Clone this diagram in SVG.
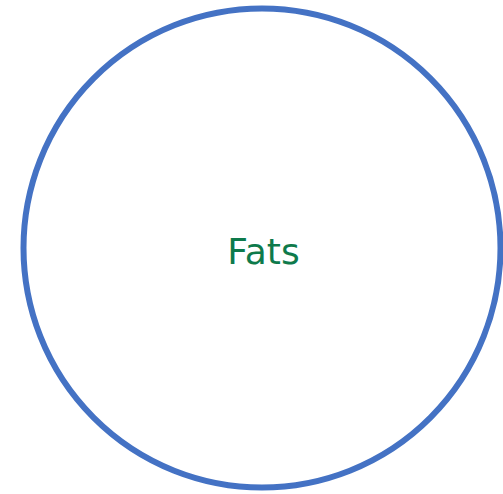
<svg xmlns="http://www.w3.org/2000/svg" width="503" height="494" viewBox="0 0 503 494">
<style>
.ring{fill:#FFFFFF;stroke:#4472C4;stroke-width:6}
.lbl{font-family:"Comic Sans MS","DejaVu Sans",sans-serif;font-size:36px;fill:#0E7A4B;text-anchor:middle}
</style>
<rect width="503" height="494" fill="#FFFFFF"/>
<g id="fats">
<ellipse class="ring" cx="262" cy="248" rx="238.5" ry="239.5"/>
<text class="lbl" x="263.5" y="264">Fats</text>
</g>
</svg>
